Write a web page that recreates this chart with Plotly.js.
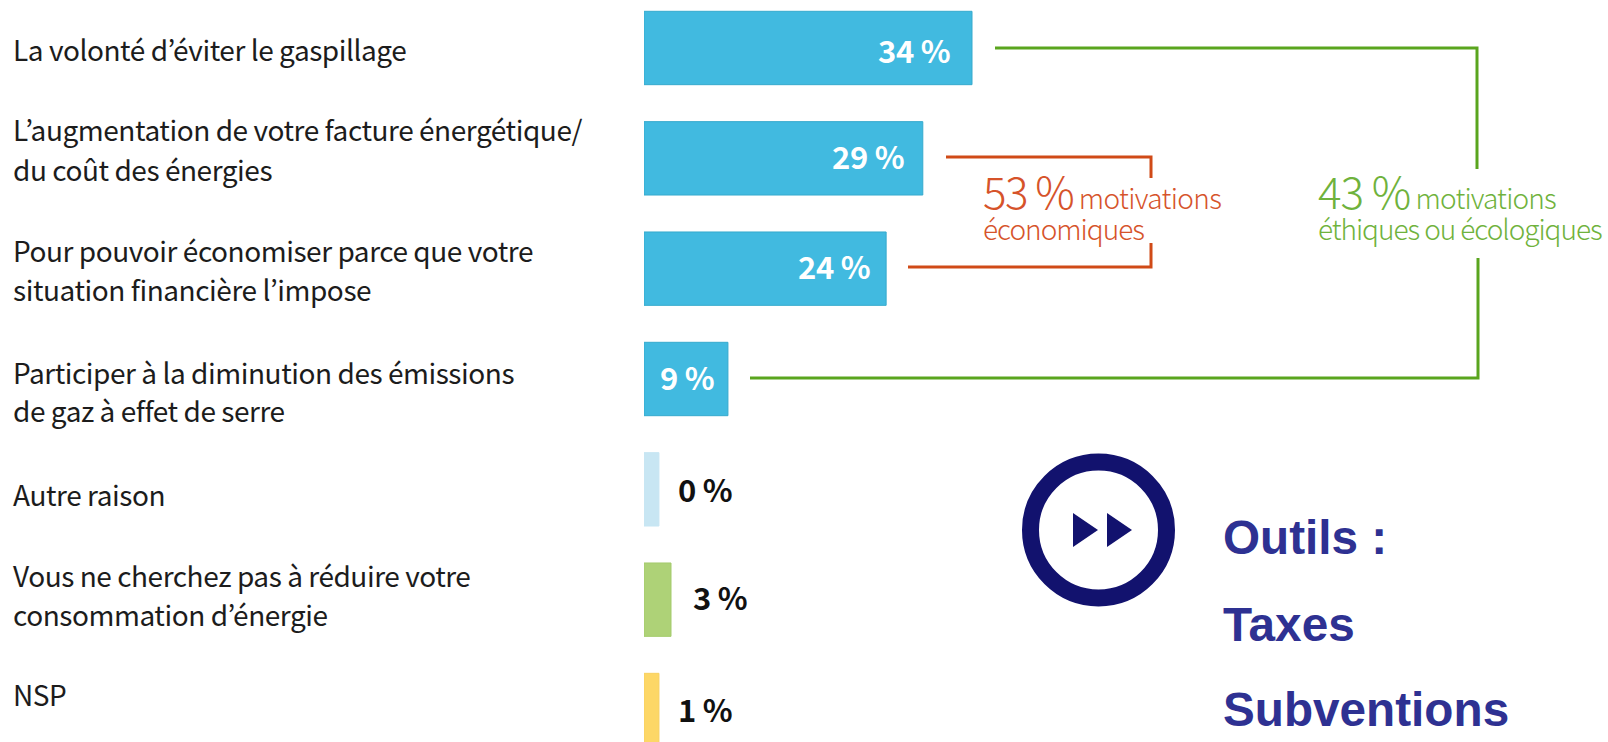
<!DOCTYPE html>
<html><head><meta charset="utf-8">
<script src="https://cdn.plot.ly/plotly-3.0.1.min.js"></script>
<style>html,body{margin:0;padding:0;background:#fff;overflow:hidden}#chart{width:1608px;height:742px}</style>
</head><body><div id="chart"></div>
<script>
const categories = ["La volonté d’éviter le gaspillage","L’augmentation de votre facture énergétique/\ndu coût des énergies","Pour pouvoir économiser parce que votre\nsituation financière l’impose","Participer à la diminution des émissions\nde gaz à effet de serre","Autre raison","Vous ne cherchez pas à réduire votre\nconsommation d’énergie","NSP"];
const percentLabels = ["34 %","29 %","24 %","9 %","0 %","3 %","1 %"];
const barLengths = [34, 28.9, 25.1, 8.7, 1.55, 2.8, 1.55];
const barColors = ["#41bae0","#41bae0","#41bae0","#41bae0","#c8e6f3","#aed277","#fdd766"];
const barEdges = ["#36aacd","#36aacd","#36aacd","#36aacd","#c8e6f3","#a4cb6c","#f7d060"];

const W=1608,H=742,L=644;
const BODY='"Noto Sans CJK JP","Noto Sans",sans-serif';
const px=v=>(v-L)/(W-L), py=v=>1-v/H;
const labelMiddles=[[49],[129,169],[250,289],[372,410],[494],[575,614],[694]];
const valueShiftX=[-21,-18,-15,-13,18,21,18];
const valueShiftY=[-1,3,3,3,1,3,2];
const GREEN='#5aa51e', ORANGE='#d04a17', NAVY='#12126e';
const track=(t,s)=>`<span style="letter-spacing:${s}px">${t}</span>`;

const annotations=[];
const note=(text,x,y,font,extra)=>annotations.push(Object.assign({text,xref:'paper',yref:'paper',x:px(x),y:py(y),xanchor:'left',yanchor:'middle',showarrow:false,align:'left',borderpad:0,font},extra||{}));

categories.forEach((c,i)=>c.split('\n').forEach((line,j)=>note(track(line,-0.45),12,labelMiddles[i][j],{family:BODY,size:28,color:'#1c1c1c'})));
percentLabels.forEach((t,i)=>annotations.push({text:track(t,-0.3),xref:'x',yref:'y',x:barLengths[i],y:i,yshift:valueShiftY[i],xshift:valueShiftX[i],
  xanchor:i<4?'right':'left',yanchor:'middle',showarrow:false,borderpad:0,
  font:{family:BODY,size:31,weight:700,color:i<4?'#ffffff':'#111111'}}));

const headline=(big,s,m)=>track(big,s)+`<span style="font-size:28px;letter-spacing:${m}px"> motivations</span>`;
note(headline('53 %',-1.5,-0.65),982,190,{family:BODY,size:44,weight:300,color:'#d6532a'});
note(track('économiques',-1),982,228,{family:BODY,size:28,weight:300,color:'#d6532a'});
note(headline('43 %',-1,-0.85),1317,190,{family:BODY,size:44,weight:300,color:'#6fb23c'});
note(track('éthiques ou écologiques',-1.05),1317,228,{family:BODY,size:28,weight:300,color:'#6fb23c'});
const TOOL='"Liberation Sans",Arial,sans-serif';
const toolFont={family:TOOL,size:47.7,weight:700,color:'#2e3192'};
note('Outils :',1222,537,toolFont);
note('Taxes',1222,624,toolFont);
note('Subventions',1222,709,toolFont);

const seg=(pts,color)=>({type:'path',xref:'paper',yref:'paper',line:{color,width:3},
  path:pts.map((p,i)=>(i?'L':'M')+px(p[0])+' '+py(p[1])).join(' ')});
const shapes=[
  seg([[995,48],[1477,48],[1477,169]],GREEN),
  seg([[750,378],[1478,378],[1478,258]],GREEN),
  seg([[946,157],[1151,157],[1151,178]],ORANGE),
  seg([[908,267],[1151,267],[1151,243]],ORANGE),
  {type:'circle',xref:'paper',yref:'paper',x0:px(1030.5),x1:px(1166.5),y0:py(462),y1:py(598),line:{color:NAVY,width:17},fillcolor:'rgba(0,0,0,0)'},
  {type:'path',xref:'paper',yref:'paper',fillcolor:NAVY,line:{width:0},path:`M${px(1073)} ${py(513)} L${px(1098)} ${py(530)} L${px(1073)} ${py(547)} Z`},
  {type:'path',xref:'paper',yref:'paper',fillcolor:NAVY,line:{width:0},path:`M${px(1107)} ${py(513)} L${px(1132)} ${py(530)} L${px(1107)} ${py(547)} Z`}
];

Plotly.newPlot('chart',[{type:'bar',orientation:'h',y:categories,x:barLengths,width:0.665,
  marker:{color:barColors,line:{color:barEdges,width:1}},hoverinfo:'skip'}],
 {width:W,height:H,margin:{l:L,r:0,t:0,b:0,pad:0},paper_bgcolor:'#fff',plot_bgcolor:'#fff',showlegend:false,hovermode:false,
  xaxis:{range:[0,(W-L)/9.647],visible:false,fixedrange:true},
  yaxis:{type:'category',range:[6.29,-0.435],visible:false,fixedrange:true},
  annotations,shapes},{displayModeBar:false,staticPlot:true});
</script></body></html>
